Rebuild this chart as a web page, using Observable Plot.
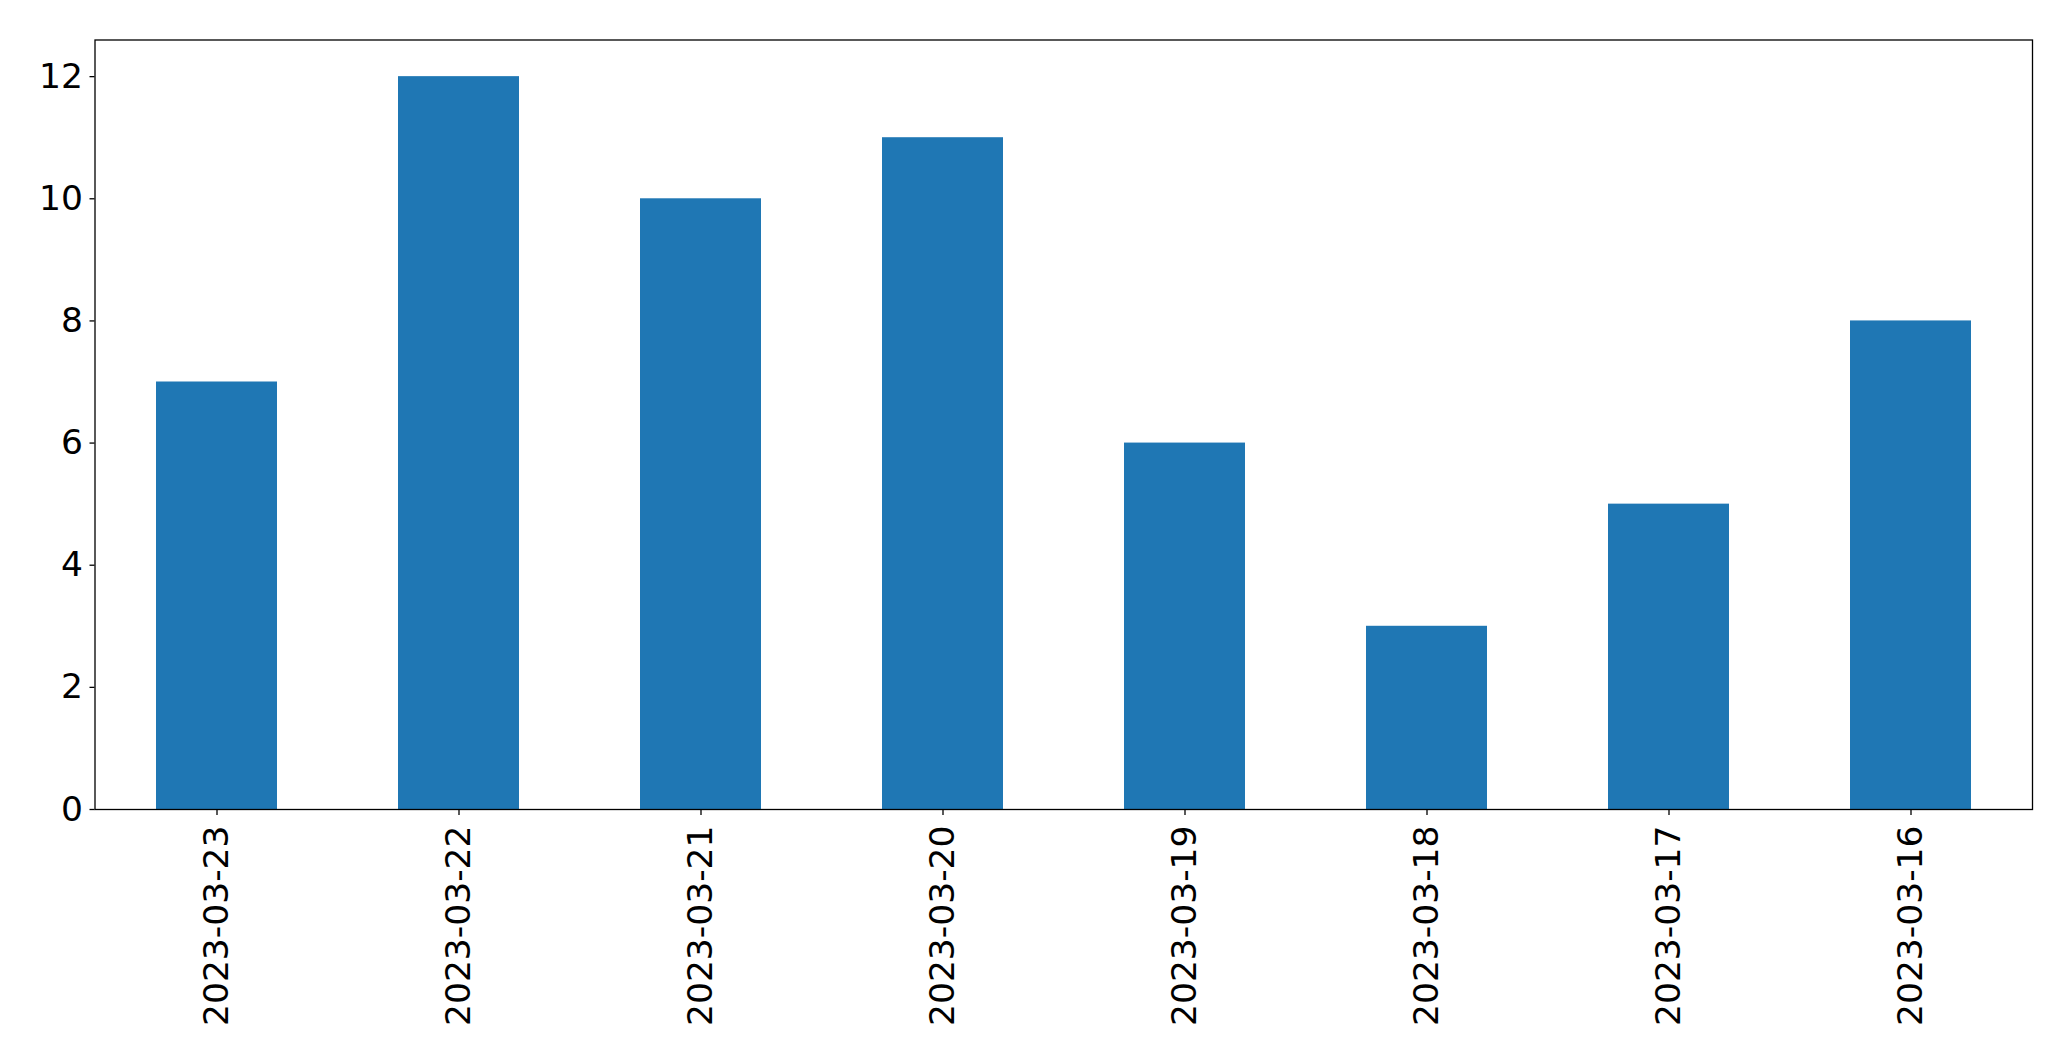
<!DOCTYPE html>
<html>
<head>
<meta charset="utf-8">
<script src="https://cdn.jsdelivr.net/npm/d3@7"></script>
<script src="https://cdn.jsdelivr.net/npm/@observablehq/plot@0.6"></script>
<style>
  html, body { margin: 0; padding: 0; background: #fff; }
  svg { font-family: "DejaVu Sans", sans-serif; }
</style>
</head>
<body>
<div id="chart"></div>
<script>
const dates = ["2023-03-23", "2023-03-22", "2023-03-21", "2023-03-20", "2023-03-19", "2023-03-18", "2023-03-17", "2023-03-16"];
const counts = [7, 12, 10, 11, 6, 3, 5, 8];
const yTicks = [0, 2, 4, 6, 8, 10, 12];

const data = dates.map((d, i) => ({date: d, count: counts[i]}));

const chart = Plot.plot({
  width: 2071,
  height: 1061,
  marginLeft: 94.5,
  marginRight: 39,
  marginTop: 39.5,
  marginBottom: 252,
  style: {fontFamily: "DejaVu Sans, sans-serif", background: "#fff", color: "#000"},
  x: {domain: dates, paddingInner: 0.5, paddingOuter: 0.25, align: 0.5},
  y: {domain: [0, 12.6]},
  marks: [
    Plot.barY(data, {x: "date", y: "count", fill: "#1f77b4"}),
    Plot.frame({stroke: "#000", strokeWidth: 1.3}),
    Plot.axisY({ticks: yTicks, tickSize: 5, tickPadding: 7, fontSize: 34.5, label: null, stroke: "#000", strokeWidth: 1.3}),
    Plot.axisX({tickSize: 6, tickPadding: 10, tickRotate: -90, fontSize: 34.5, label: null, stroke: "#000", strokeWidth: 1.3})
  ]
});
document.getElementById("chart").appendChild(chart);
</script>
</body>
</html>
